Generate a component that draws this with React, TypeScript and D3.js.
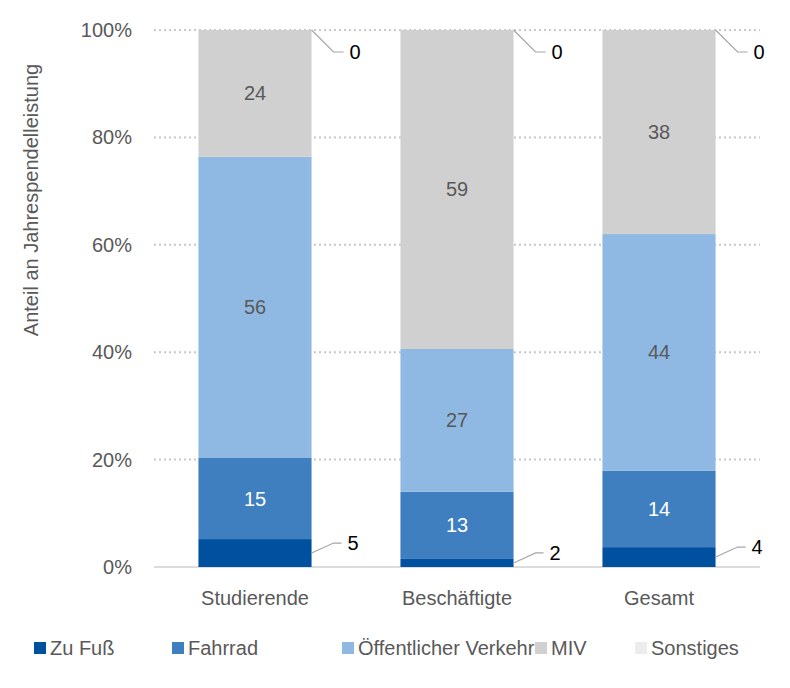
import React from 'react';
import * as d3 from 'd3';

const categories = ['Studierende', 'Beschäftigte', 'Gesamt'];
const seriesNames = ['Zu Fuß', 'Fahrrad', 'Öffentlicher Verkehr', 'MIV', 'Sonstiges'];
const zuFuss = [5.2, 1.5, 3.7];
const fahrrad = [15.1, 12.5, 14.2];
const oev = [56.1, 26.6, 44.1];
const miv = [23.6, 59.4, 38.0];
const sonstiges = [0, 0, 0];
const labelsZuFuss = ['5', '2', '4'];
const labelsFahrrad = ['15', '13', '14'];
const labelsOev = ['56', '27', '44'];
const labelsMiv = ['24', '59', '38'];
const labelsSonst = ['0', '0', '0'];
const yTicks = [0, 20, 40, 60, 80, 100];

const colors = ['#0050a0', '#3f7fbf', '#8fb9e3', '#d0d0d0', '#ececec'];
const FONT = '"Liberation Sans", Arial, sans-serif';

export default function App() {
  const W = 790, H = 688;
  const y = d3.scaleLinear().domain([0, 100]).range([567, 30]);
  const x = d3.scaleBand().domain(categories).range([154, 760]).paddingInner(0.44).paddingOuter(0.22);
  const series = [zuFuss, fahrrad, oev, miv, sonstiges];
  const labels = [labelsZuFuss, labelsFahrrad, labelsOev, labelsMiv, labelsSonst];
  const rows = categories.map((c, i) => {
    const r: any = { cat: c };
    seriesNames.forEach((s, k) => (r[s] = series[k][i]));
    return r;
  });
  const stacked = d3.stack<any>().keys(seriesNames)(rows);

  return (
    <svg width={W} height={H} style={{ position: 'absolute', left: 0, top: 0, fontFamily: FONT }}>
      {yTicks.map(t => (
        <g key={t}>
          {t > 0 && (
            <line x1={154} x2={760} y1={y(t)} y2={y(t)} stroke="#c8c8c8" strokeWidth={2} strokeDasharray="2,3" />
          )}
          <text x={132} y={y(t)} dy="0.35em" textAnchor="end" fontSize={20} fill="#595959">{t}%</text>
        </g>
      ))}
      <line x1={154} x2={760} y1={567} y2={567} stroke="#d0d0d0" strokeWidth={1.5} />
      {stacked.map((s, k) =>
        s.map((d, i) => (
          <rect key={k + '-' + i} x={x(categories[i])!} width={x.bandwidth()} y={y(d[1])} height={y(d[0]) - y(d[1])} fill={colors[k]} />
        ))
      )}
      {stacked.map((s, k) =>
        s.map((d, i) => {
          const bx = x(categories[i])!;
          const bw = x.bandwidth();
          const mid = (y(d[0]) + y(d[1])) / 2;
          if (k === 1 || k === 2 || k === 3) {
            return (
              <text key={'l' + k + i} x={bx + bw / 2} y={mid} dy="0.35em" textAnchor="middle" fontSize={20}
                fill={k === 1 ? '#ffffff' : '#595959'}>{labels[k][i]}</text>
            );
          }
          if (k === 0) {
            const sy = mid;
            return (
              <g key={'l' + k + i}>
                <polyline points={`${bx + bw},${sy} ${bx + bw + 22},${sy - 10} ${bx + bw + 30},${sy - 10}`} fill="none" stroke="#a6a6a6" strokeWidth={1.2} />
                <text x={bx + bw + 36} y={sy - 10} dy="0.35em" fontSize={20} fill="#000">{labels[k][i]}</text>
              </g>
            );
          }
          const sy = y(d[1]);
          return (
            <g key={'l' + k + i}>
              <polyline points={`${bx + bw},${sy} ${bx + bw + 22},${sy + 22} ${bx + bw + 32},${sy + 22}`} fill="none" stroke="#a6a6a6" strokeWidth={1.2} />
              <text x={bx + bw + 38} y={sy + 22} dy="0.35em" fontSize={20} fill="#000">{labels[k][i]}</text>
            </g>
          );
        })
      )}
      {categories.map(c => (
        <text key={c} x={x(c)! + x.bandwidth() / 2} y={598} dy="0.35em" textAnchor="middle" fontSize={20} fill="#595959">{c}</text>
      ))}
      <text transform="translate(38,200) rotate(-90)" textAnchor="middle" fontSize={20} fill="#595959">Anteil an Jahrespendelleistung</text>
      {(() => {
        const xs = [34, 172, 342, 535, 635];
        return seriesNames.map((s, k) => (
          <g key={s}>
            <rect x={xs[k]} y={642} width={12} height={12} fill={colors[k]} />
            <text x={xs[k] + 16} y={648} dy="0.35em" fontSize={20} fill="#595959">{s}</text>
          </g>
        ));
      })()}
    </svg>
  );
}
